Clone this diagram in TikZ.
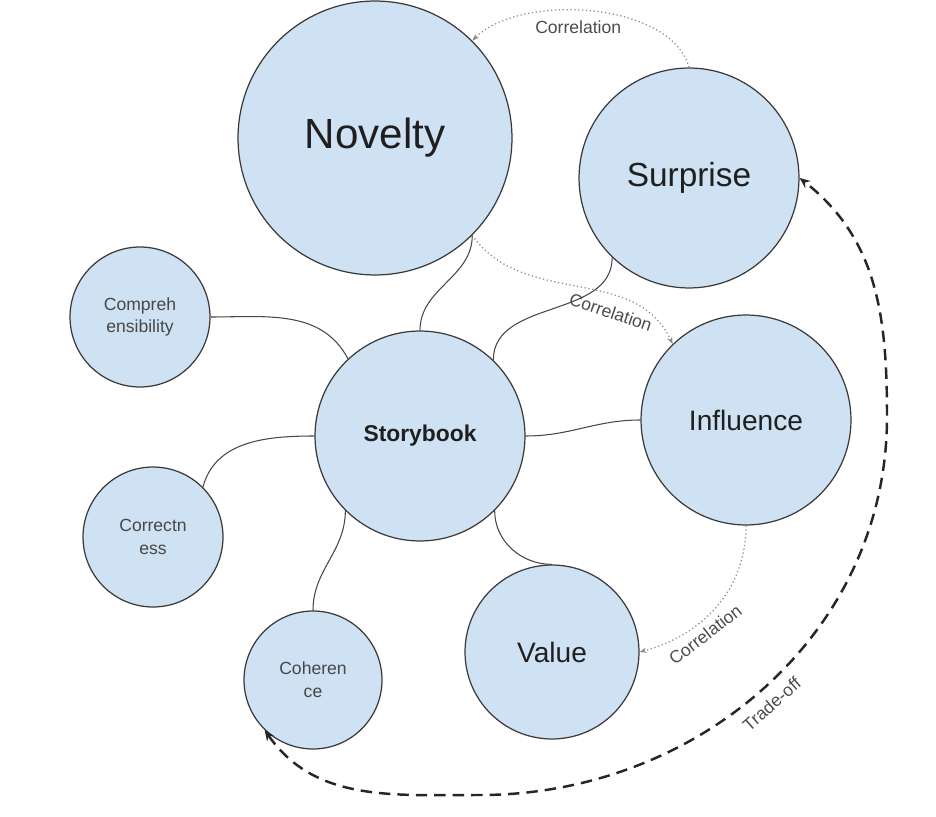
\documentclass[tikz,border=0pt]{standalone}
\usepackage{fontspec}
\setmainfont{Liberation Sans}
\usetikzlibrary{arrows.meta}
\definecolor{topicblue}{HTML}{CFE2F3}
\definecolor{rimgray}{HTML}{3A3A3A}
\definecolor{dotgray}{HTML}{8A8A8A}

\begin{document}
\begin{tikzpicture}[x=0.02cm, y=0.02cm,
           topic/.style={draw=rimgray, line width=0.7pt, circle, fill=topicblue,
              inner sep=0pt, align=center, text=black!88},
           minor/.style={topic, minimum size=2.8cm, font=\fontsize{10}{13}\selectfont, text=black!72},
           link/.style={draw=black!72, line width=0.6pt},
           correlation/.style={draw=dotgray, line width=0.7pt, dash pattern=on 0.7pt off 1.5pt,
              -{Stealth[length=4pt,width=3pt]}},
           tradeoff/.style={draw=black!85, line width=1.4pt, dash pattern=on 6.5pt off 4pt,
              {Stealth[length=6pt,width=5pt]}-{Stealth[length=6pt,width=5pt]}},
           note/.style={font=\fontsize{10}{12}\selectfont, text=black!70},
        ]
        \useasboundingbox (0,0) rectangle (936,-817);

        \node at (375,-138) (novelty) [topic, minimum size=5.48cm, font=\fontsize{24}{28}\selectfont] {Novelty};
        \node at (689,-178) (surprise) [topic, minimum size=4.4cm, font=\fontsize{19}{22}\selectfont] {Surprise};
        \node at (420,-436) (storybook) [topic, minimum size=4.2cm, font=\fontsize{13}{15}\selectfont\bfseries] {Storybook};
        \node at (746,-420) (influence) [topic, minimum size=4.2cm, font=\fontsize{16}{19}\selectfont] {Influence};
        \node at (552,-652) (value) [topic, minimum size=3.48cm, font=\fontsize{16}{19}\selectfont] {Value};
        \node at (140,-317) (compre) [minor] {Compreh\\ensibility};
        \node at (153,-537) (correct) [minor] {Correctn\\ess};
        \node at (313,-680) (coherence) [minor, minimum size=2.76cm] {Coheren\\ce};

        \coordinate (tbottom) at (480,-795);
        \coordinate (tright) at (887,-417);

        \draw[link] (novelty.-45) to[out=-90,in=90] (storybook.north);
        \draw[link] (surprise.-134) to[out=-90,in=90] (storybook.46);
        \draw[link] (compre.east) to[out=0,in=118] (storybook.133);
        \draw[link] (correct.45) to[out=75,in=180] (storybook.west);
        \draw[link] (coherence.north) to[out=90,in=-90] (storybook.-135);
        \draw[link] (storybook.-45) to[out=-90,in=180] (value.north);
        \draw[link] (storybook.east) to[out=0,in=180] (influence.west);

        \draw[correlation] (surprise.north) to[out=105,in=45,looseness=0.8] node[pos=0.55, below=2pt, note] {Correlation} (novelty.45);
        \draw[correlation] (novelty.-45) to[out=-55,in=115] node[pos=0.67, sloped, below=2pt, note] {Correlation} (influence.134);
        \draw[correlation] (influence.south) to[out=-90,in=15] node[pos=0.65, sloped, below=0pt, note] {Correlation} (value.east);

        \draw[tradeoff] (coherence.-134) to[out=-55,in=180] (tbottom) to[out=0,in=-90] node[pos=0.49, sloped, below=2pt, note] {Trade-off} (tright) to[out=90,in=-38] (surprise.east);
     \end{tikzpicture}
\end{document}
